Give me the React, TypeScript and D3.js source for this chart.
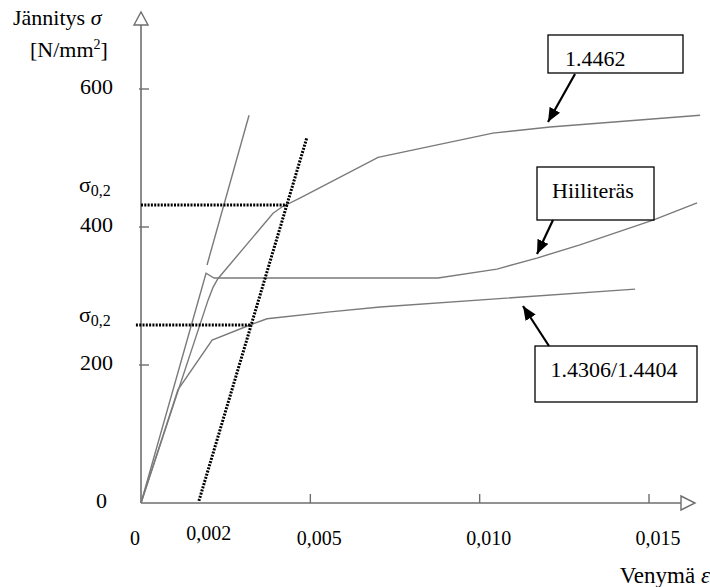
import * as d3 from "d3";
import { useEffect, useRef } from "react";

// strain (venymä) and stress (jännitys, N/mm2)
const hiiliE = [0, 0.00192, 0.00216, 0.00877, 0.01051, 0.01169, 0.01296, 0.01512, 0.01642];
const hiiliS = [0, 333, 326, 326, 339, 355, 374, 410, 435];

const s1446E = [0, 0.00198, 0.00213, 0.00227, 0.0039, 0.00416, 0.00469, 0.007, 0.01039, 0.01208, 0.01651];
const s1446S = [0, 294, 313, 325, 420, 429, 442, 501, 536, 545, 562];

const s1430E = [0, 0.00109, 0.0021, 0.00322, 0.00372, 0.00558, 0.00706, 0.01459];
const s1430S = [0, 164, 236, 258, 267, 277, 284, 310];

// 0.2 % offset line and elastic line
const offsetE = [0.00171, 0.0049];
const offsetS = [3, 530];
const elasticE = [0.00195, 0.00319];
const elasticS = [345, 562];

// proof stresses
const rpS = [432, 258];
const rpE = [0.00431, 0.00322];

const yTicks = [200, 400, 600];
const yLabels = ["0", "200", "400", "600"];
const yLabelValues = [0, 200, 400, 600];
const xTicks = [0.005, 0.01, 0.015];
const xLabels = ["0", "0,002", "0,005", "0,010", "0,015"];
const xLabelValues = [0, 0.002, 0.005, 0.01, 0.015];

const FONT = "'Liberation Serif', 'Times New Roman', serif";

const zip = (e, s) => e.map((v, i) => [v, s[i]]);

const App = () => {
  const ref = useRef(null);

  useEffect(() => {
    const svg = d3.select(ref.current);
    svg.selectAll("*").remove();

    const x = d3.scaleLinear().domain([0, 0.015]).range([141, 649]);
    const y = d3.scaleLinear().domain([0, 600]).range([503, 89]);
    const line = d3
      .line()
      .x((d) => x(d[0]))
      .y((d) => y(d[1]));

    const defs = svg.append("defs");
    defs
      .append("marker")
      .attr("id", "head")
      .attr("markerUnits", "userSpaceOnUse")
      .attr("markerWidth", 15)
      .attr("markerHeight", 12)
      .attr("refX", 14)
      .attr("refY", 6)
      .attr("orient", "auto")
      .append("path")
      .attr("d", "M0,0 L14,6 L0,12 Z")
      .attr("fill", "black");

    // axes
    const axisColor = "#6e6e6e";
    svg
      .append("line")
      .attr("x1", x(0))
      .attr("y1", y(0))
      .attr("x2", x(0))
      .attr("y2", 25)
      .attr("stroke", axisColor)
      .attr("stroke-width", 1.6);
    svg
      .append("path")
      .attr("d", `M${x(0) - 7},25 L${x(0)},12 L${x(0) + 7},25 Z`)
      .attr("fill", "white")
      .attr("stroke", axisColor)
      .attr("stroke-width", 1.4);
    svg
      .append("line")
      .attr("x1", x(0))
      .attr("y1", y(0))
      .attr("x2", 681)
      .attr("y2", y(0))
      .attr("stroke", axisColor)
      .attr("stroke-width", 1.6);
    svg
      .append("path")
      .attr("d", `M681,${y(0) - 7} L695,${y(0)} L681,${y(0) + 7} Z`)
      .attr("fill", "white")
      .attr("stroke", axisColor)
      .attr("stroke-width", 1.4);

    svg
      .selectAll(".yt")
      .data(yTicks)
      .enter()
      .append("line")
      .attr("x1", x(0) - 2)
      .attr("x2", x(0) + 8)
      .attr("y1", (d) => y(d))
      .attr("y2", (d) => y(d))
      .attr("stroke", axisColor)
      .attr("stroke-width", 1.4);
    svg
      .selectAll(".xt")
      .data(xTicks)
      .enter()
      .append("line")
      .attr("x1", (d) => x(d))
      .attr("x2", (d) => x(d))
      .attr("y1", y(0))
      .attr("y2", y(0) - 9)
      .attr("stroke", axisColor)
      .attr("stroke-width", 1.4);

    svg
      .selectAll(".yl")
      .data(yLabels)
      .enter()
      .append("text")
      .attr("x", (d, i) => (i === 0 ? 107 : 113))
      .attr("y", (d, i) => y(yLabelValues[i]) + 5)
      .attr("text-anchor", "end")
      .attr("font-family", FONT)
      .attr("font-size", 22)
      .text((d) => d);

    svg
      .selectAll(".xl")
      .data(xLabels)
      .enter()
      .append("text")
      .attr("x", (d, i) => {
        const v = xLabelValues[i];
        if (v === 0) return x(v) - 6;
        if (v === 0.002) return x(v);
        return x(v) + 9;
      })
      .attr("y", (d, i) => (xLabelValues[i] === 0.002 ? 540 : 545))
      .attr("text-anchor", "middle")
      .attr("font-family", FONT)
      .attr("font-size", 20)
      .text((d) => d);

    // axis titles
    const t1 = svg
      .append("text")
      .attr("x", 13)
      .attr("y", 25)
      .attr("font-family", FONT)
      .attr("font-size", 22);
    t1.append("tspan").text("Jännitys ");
    t1.append("tspan").attr("font-style", "italic").text("σ");
    const t2 = svg
      .append("text")
      .attr("x", 30)
      .attr("y", 57)
      .attr("font-family", FONT)
      .attr("font-size", 22);
    t2.append("tspan").text("[N/mm");
    t2.append("tspan").attr("font-size", 14).attr("dy", -8).text("2");
    t2.append("tspan").attr("dy", 8).text("]");

    const t3 = svg
      .append("text")
      .attr("x", 710)
      .attr("y", 583)
      .attr("text-anchor", "end")
      .attr("font-family", FONT)
      .attr("font-size", 23);
    t3.append("tspan").text("Venymä ");
    t3.append("tspan").attr("font-style", "italic").text("ε");

    // sigma 0,2 labels
    [192, 322].forEach((by) => {
      const t = svg
        .append("text")
        .attr("x", 79)
        .attr("y", by)
        .attr("font-family", FONT)
        .attr("font-size", 22);
      t.append("tspan").text("σ");
      t.append("tspan").attr("font-size", 16).attr("dy", 4).text("0,2");
    });

    // curves
    const curveColor = "#7a7a7a";
    [zip(hiiliE, hiiliS), zip(s1446E, s1446S), zip(s1430E, s1430S), zip(elasticE, elasticS)].forEach(
      (pts) => {
        svg
          .append("path")
          .attr("d", line(pts))
          .attr("fill", "none")
          .attr("stroke", curveColor)
          .attr("stroke-width", 1.4);
      }
    );

    // dotted construction lines
    const dotted = (pts) =>
      svg
        .append("path")
        .attr("d", line(pts))
        .attr("fill", "none")
        .attr("stroke", "black")
        .attr("stroke-width", 3)
        .attr("stroke-dasharray", "2,1.3");
    dotted(zip(offsetE, offsetS));
    rpS.forEach((s, i) => {
      dotted([
        [i === 0 ? 0 : -0.00015, s],
        [rpE[i], s],
      ]);
    });

    // label boxes with arrows
    const boxes = [
      { label: "1.4462", x0: 548, y0: 35, w: 135, h: 38, tx: 565, ty: 66, anchor: "start", a: [575, 74, 548, 122] },
      { label: "Hiiliteräs", x0: 537, y0: 167, w: 117, h: 53, tx: 593, ty: 198, anchor: "middle", a: [553, 220, 537, 254] },
      { label: "1.4306/1.4404", x0: 535, y0: 346, w: 162, h: 56, tx: 614, ty: 377, anchor: "middle", a: [549, 346, 523, 306] },
    ];
    boxes.forEach((b) => {
      svg
        .append("rect")
        .attr("x", b.x0)
        .attr("y", b.y0)
        .attr("width", b.w)
        .attr("height", b.h)
        .attr("fill", "white")
        .attr("stroke", "black")
        .attr("stroke-width", 1.3);
      svg
        .append("text")
        .attr("x", b.tx)
        .attr("y", b.ty)
        .attr("text-anchor", b.anchor)
        .attr("font-family", FONT)
        .attr("font-size", 22)
        .text(b.label);
      svg
        .append("line")
        .attr("x1", b.a[0])
        .attr("y1", b.a[1])
        .attr("x2", b.a[2])
        .attr("y2", b.a[3])
        .attr("stroke", "black")
        .attr("stroke-width", 2.2)
        .attr("marker-end", "url(#head)");
    });
  }, []);

  return (
    <svg
      ref={ref}
      width={710}
      height={587}
      style={{ position: "absolute", left: 0, top: 0, background: "white" }}
    />
  );
};

export default App;
